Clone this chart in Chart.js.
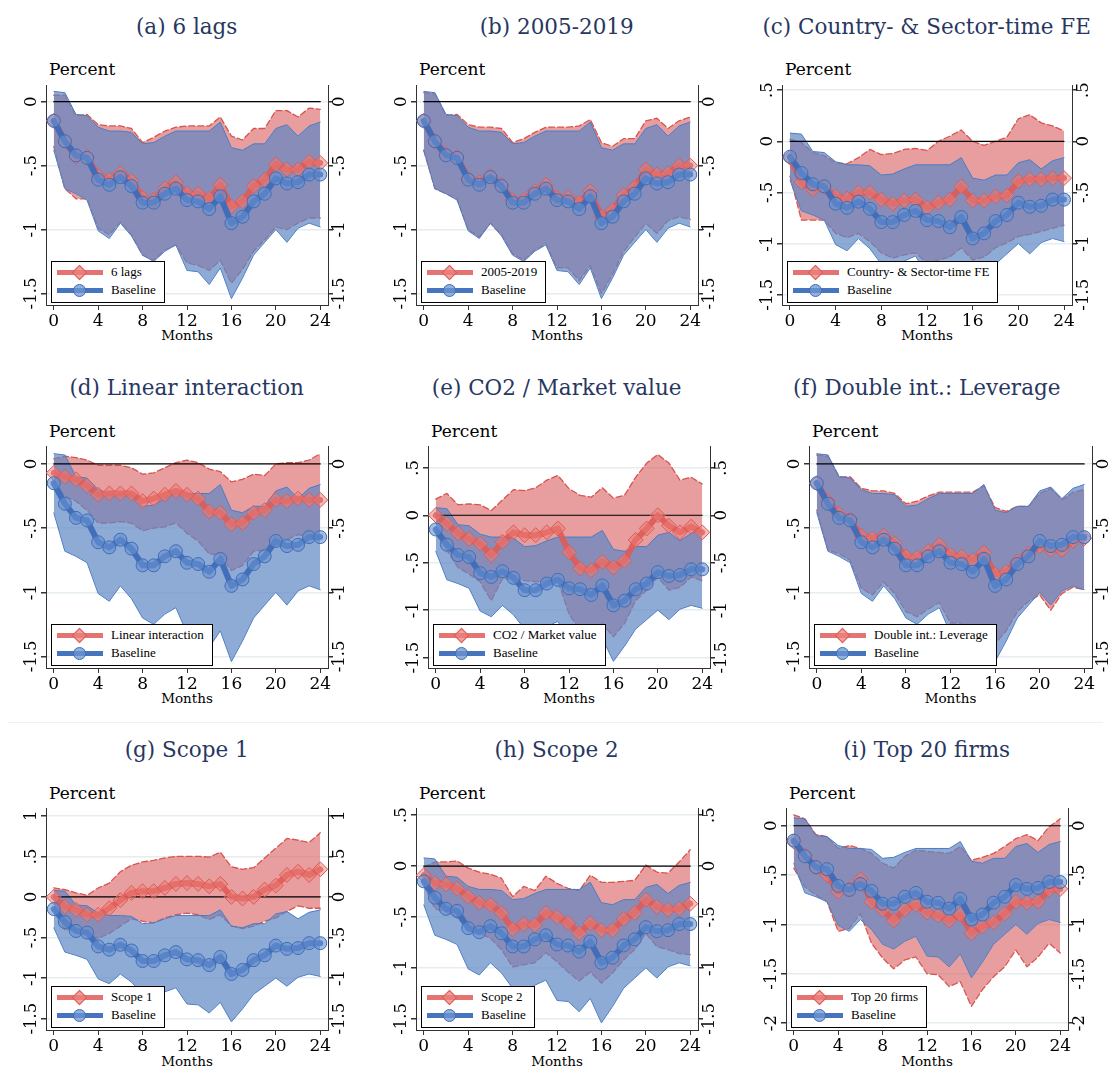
<!DOCTYPE html>
<html>
<head>
<meta charset="utf-8">
<script src="https://cdn.jsdelivr.net/npm/chart.js@4.4.1/dist/chart.umd.min.js"></script>
<style>
  body { margin:0; background:#fff; width:1111px; height:1067px; position:relative; overflow:hidden; font-family:"DejaVu Serif", serif; }
  .ttl { position:absolute; width:370px; text-align:center; font-size:21.5px; line-height:24px; color:#28375f; white-space:nowrap; }
  .pct { position:absolute; font-size:17px; line-height:20px; color:#000; }
  .mon { position:absolute; font-size:13.5px; line-height:16px; color:#000; transform:translateX(-50%); }
  canvas { position:absolute; }
  .leg { position:absolute; border:1px solid #000; background:#fff; font-family:"Liberation Serif", serif; font-size:13px; color:#000; height:39px; padding:1px 8px 0 0; box-sizing:content-box; white-space:nowrap; }
  .row { position:relative; height:18px; line-height:18px; padding-left:59px; }
  .smp { position:absolute; left:5px; top:7px; width:46px; height:5px; }
  .smp.red { background:rgba(222,92,88,0.85); }
  .smp.blue { background:#4674bd; }
  .dia { position:absolute; left:17px; top:-3px; width:9px; height:9px; transform:rotate(45deg); background:rgba(236,130,125,0.75); border:1px solid #dd5b57; }
  .circ { position:absolute; left:16px; top:-4px; width:11px; height:11px; border-radius:50%; background:rgba(110,150,210,0.75); border:1px solid #3f6db6; }
  .sep { position:absolute; left:8px; width:1095px; top:722px; height:1px; background:#eef1f3; }
</style>
</head>
<body>
<div class="sep"></div>
<script>
// ---- data ----
const months = [0,1,2,3,4,5,6,7,8,9,10,11,12,13,14,15,16,17,18,19,20,21,22,23,24];
const xTicks = [0,4,8,12,16,20,24];

const baseMid = [-0.15,-0.31,-0.42,-0.44,-0.61,-0.65,-0.59,-0.66,-0.79,-0.79,-0.72,-0.68,-0.77,-0.78,-0.84,-0.74,-0.95,-0.90,-0.78,-0.72,-0.60,-0.64,-0.63,-0.57,-0.57];
const baseHi  = [0.08,0.07,-0.10,-0.11,-0.20,-0.23,-0.23,-0.24,-0.33,-0.32,-0.27,-0.23,-0.23,-0.23,-0.23,-0.16,-0.36,-0.38,-0.33,-0.33,-0.21,-0.18,-0.27,-0.19,-0.16];
const baseLo  = [-0.38,-0.68,-0.72,-0.77,-1.01,-1.07,-0.95,-1.05,-1.20,-1.25,-1.17,-1.12,-1.32,-1.33,-1.43,-1.30,-1.54,-1.38,-1.20,-1.10,-1.00,-1.10,-0.99,-0.95,-0.98];

const lagsMid = [-0.15,-0.31,-0.43,-0.43,-0.58,-0.61,-0.56,-0.62,-0.75,-0.77,-0.68,-0.63,-0.72,-0.72,-0.76,-0.65,-0.82,-0.78,-0.66,-0.61,-0.49,-0.53,-0.53,-0.47,-0.48];
const lagsHi  = [0.05,0.05,-0.11,-0.10,-0.18,-0.19,-0.19,-0.21,-0.32,-0.28,-0.23,-0.20,-0.19,-0.19,-0.19,-0.12,-0.27,-0.30,-0.21,-0.21,-0.07,-0.07,-0.12,-0.05,-0.06];
const lagsLo  = [-0.35,-0.68,-0.76,-0.76,-0.99,-1.04,-0.94,-1.04,-1.20,-1.24,-1.16,-1.12,-1.26,-1.28,-1.32,-1.24,-1.42,-1.31,-1.17,-1.08,-0.98,-1.00,-0.95,-0.91,-0.91];

const subMid = [-0.15,-0.31,-0.41,-0.43,-0.60,-0.63,-0.58,-0.65,-0.77,-0.77,-0.70,-0.65,-0.75,-0.75,-0.79,-0.70,-0.90,-0.85,-0.73,-0.67,-0.53,-0.57,-0.56,-0.50,-0.50];
const subHi  = [0.07,0.06,-0.11,-0.10,-0.18,-0.20,-0.20,-0.21,-0.32,-0.29,-0.24,-0.20,-0.20,-0.20,-0.19,-0.14,-0.32,-0.35,-0.29,-0.29,-0.15,-0.13,-0.21,-0.15,-0.12];
const subLo  = [-0.38,-0.68,-0.72,-0.76,-1.00,-1.06,-0.95,-1.04,-1.19,-1.24,-1.16,-1.11,-1.30,-1.30,-1.40,-1.28,-1.50,-1.35,-1.17,-1.06,-0.95,-1.03,-0.93,-0.90,-0.92];

const feMid = [-0.16,-0.40,-0.47,-0.45,-0.54,-0.56,-0.50,-0.50,-0.57,-0.61,-0.58,-0.57,-0.65,-0.60,-0.57,-0.44,-0.58,-0.58,-0.54,-0.53,-0.39,-0.37,-0.37,-0.36,-0.36];
const feHi  = [0.02,-0.01,-0.11,-0.14,-0.21,-0.22,-0.16,-0.08,-0.13,-0.12,-0.08,-0.07,-0.09,0.00,0.05,0.11,0.00,-0.04,0.00,0.04,0.22,0.26,0.18,0.15,0.10];
const feLo  = [-0.34,-0.77,-0.77,-0.77,-0.90,-0.94,-0.90,-0.98,-1.09,-1.14,-1.11,-1.09,-1.19,-1.16,-1.13,-1.04,-1.16,-1.13,-1.04,-0.99,-0.93,-0.91,-0.88,-0.85,-0.82];

const linMid = [-0.07,-0.10,-0.12,-0.17,-0.24,-0.23,-0.23,-0.23,-0.29,-0.27,-0.24,-0.21,-0.24,-0.27,-0.37,-0.38,-0.47,-0.46,-0.38,-0.36,-0.28,-0.29,-0.27,-0.28,-0.28];
const linHi  = [0.04,0.06,0.05,0.03,-0.01,-0.01,-0.01,-0.03,-0.08,-0.07,-0.03,0.01,0.03,0.01,-0.04,-0.06,-0.14,-0.12,-0.08,-0.09,0.00,0.01,0.01,0.03,0.08];
const linLo  = [-0.15,-0.25,-0.29,-0.36,-0.46,-0.46,-0.45,-0.46,-0.52,-0.50,-0.49,-0.46,-0.54,-0.60,-0.70,-0.71,-0.83,-0.79,-0.68,-0.67,-0.57,-0.59,-0.55,-0.57,-0.60];

const co2Mid = [0.00,-0.09,-0.19,-0.25,-0.30,-0.42,-0.28,-0.18,-0.21,-0.21,-0.18,-0.14,-0.39,-0.56,-0.58,-0.49,-0.55,-0.48,-0.26,-0.14,0.00,-0.11,-0.18,-0.12,-0.18];
const co2Hi  = [0.17,0.23,0.11,0.12,0.11,0.05,0.16,0.27,0.26,0.29,0.37,0.42,0.28,0.21,0.19,0.29,0.18,0.21,0.40,0.55,0.64,0.55,0.37,0.40,0.33];
const co2Lo  = [-0.19,-0.37,-0.55,-0.62,-0.70,-0.90,-0.67,-0.67,-0.69,-0.70,-0.70,-0.69,-1.04,-1.21,-1.28,-1.14,-1.28,-1.14,-0.90,-0.79,-0.65,-0.79,-0.76,-0.65,-0.69];

const levMid = [-0.15,-0.29,-0.39,-0.43,-0.56,-0.58,-0.56,-0.62,-0.72,-0.73,-0.68,-0.63,-0.71,-0.72,-0.75,-0.69,-0.86,-0.84,-0.76,-0.70,-0.64,-0.67,-0.67,-0.60,-0.58];
const levHi  = [0.07,0.06,-0.10,-0.10,-0.19,-0.21,-0.21,-0.23,-0.31,-0.29,-0.25,-0.22,-0.22,-0.22,-0.22,-0.17,-0.34,-0.37,-0.33,-0.33,-0.23,-0.19,-0.28,-0.22,-0.20];
const levLo  = [-0.36,-0.67,-0.70,-0.75,-0.97,-1.02,-0.92,-1.01,-1.15,-1.19,-1.13,-1.08,-1.24,-1.24,-1.33,-1.24,-1.40,-1.30,-1.15,-1.07,-1.02,-1.14,-1.01,-0.96,-0.98];

const s1Mid = [0.00,-0.12,-0.16,-0.22,-0.22,-0.14,-0.04,0.05,0.07,0.07,0.11,0.16,0.17,0.16,0.13,0.16,0.00,-0.02,0.00,0.09,0.14,0.27,0.31,0.27,0.34];
const s1Hi  = [0.11,0.09,0.05,0.02,0.11,0.17,0.31,0.39,0.43,0.45,0.48,0.50,0.50,0.50,0.49,0.55,0.37,0.34,0.36,0.48,0.60,0.72,0.70,0.67,0.79];
const s1Lo  = [-0.14,-0.41,-0.39,-0.47,-0.51,-0.45,-0.36,-0.27,-0.30,-0.32,-0.26,-0.22,-0.20,-0.22,-0.28,-0.22,-0.36,-0.39,-0.36,-0.30,-0.26,-0.18,-0.11,-0.14,-0.14];

const s2Mid = [-0.09,-0.17,-0.18,-0.22,-0.30,-0.36,-0.38,-0.46,-0.62,-0.57,-0.58,-0.46,-0.50,-0.56,-0.66,-0.56,-0.63,-0.63,-0.52,-0.46,-0.33,-0.40,-0.43,-0.42,-0.37];
const s2Hi  = [-0.01,0.04,0.04,0.05,-0.02,-0.06,-0.08,-0.12,-0.30,-0.20,-0.24,-0.10,-0.17,-0.22,-0.24,-0.09,-0.16,-0.16,-0.15,-0.14,0.01,-0.06,-0.07,0.04,0.16];
const s2Lo  = [-0.19,-0.42,-0.45,-0.51,-0.61,-0.66,-0.71,-0.82,-0.99,-0.97,-0.95,-0.85,-0.94,-1.04,-1.13,-1.04,-1.15,-1.05,-0.92,-0.82,-0.66,-0.79,-0.82,-0.86,-0.87];

const topMid = [-0.16,-0.30,-0.42,-0.50,-0.67,-0.64,-0.54,-0.77,-0.85,-0.96,-0.85,-0.80,-0.88,-0.91,-0.96,-0.90,-1.09,-1.02,-0.98,-0.89,-0.77,-0.78,-0.77,-0.65,-0.64];
const topHi  = [0.11,0.07,-0.09,-0.11,-0.23,-0.20,-0.23,-0.28,-0.38,-0.43,-0.31,-0.25,-0.26,-0.27,-0.28,-0.21,-0.35,-0.32,-0.28,-0.21,-0.13,-0.09,-0.15,-0.01,0.07];
const topLo  = [-0.43,-0.62,-0.70,-0.77,-1.07,-1.04,-0.89,-1.19,-1.34,-1.45,-1.36,-1.33,-1.50,-1.51,-1.63,-1.58,-1.83,-1.66,-1.53,-1.43,-1.26,-1.43,-1.33,-1.19,-1.29];

// y tick labels
const ticksStd = [0,-0.5,-1,-1.5];
const ticksHalf = [0.5,0,-0.5,-1,-1.5];
const ticksOne = [1,0.5,0,-0.5,-1,-1.5];
const ticksTwo = [0,-0.5,-1,-1.5,-2];

const panels = [
  {title:'(a) 6 lags', label:'6 lags', mid:lagsMid, hi:lagsHi, lo:lagsLo, ticks:ticksStd, ymin:-1.59, ymax:0.13},
  {title:'(b) 2005-2019', label:'2005-2019', mid:subMid, hi:subHi, lo:subLo, ticks:ticksStd, ymin:-1.59, ymax:0.13},
  {title:'(c) Country- & Sector-time FE', label:'Country- & Sector-time FE', mid:feMid, hi:feHi, lo:feLo, ticks:ticksHalf, ymin:-1.60, ymax:0.55},
  {title:'(d) Linear interaction', label:'Linear interaction', mid:linMid, hi:linHi, lo:linLo, ticks:ticksStd, ymin:-1.59, ymax:0.14},
  {title:'(e) CO2 / Market value', label:'CO2 / Market value', mid:co2Mid, hi:co2Hi, lo:co2Lo, ticks:ticksHalf, ymin:-1.61, ymax:0.73},
  {title:'(f) Double int.: Leverage', label:'Double int.: Leverage', mid:levMid, hi:levHi, lo:levLo, ticks:ticksStd, ymin:-1.59, ymax:0.14},
  {title:'(g) Scope 1', label:'Scope 1', mid:s1Mid, hi:s1Hi, lo:s1Lo, ticks:ticksOne, ymin:-1.64, ymax:1.095},
  {title:'(h) Scope 2', label:'Scope 2', mid:s2Mid, hi:s2Hi, lo:s2Lo, ticks:ticksHalf, ymin:-1.61, ymax:0.57},
  {title:'(i) Top 20 firms', label:'Top 20 firms', mid:topMid, hi:topHi, lo:topLo, ticks:ticksTwo, ymin:-2.07, ymax:0.18}
];

// ---- layout (plot frame of each panel) ----
const frames = [
  {L:46, R:328, T:85, B:305}, {L:416, R:698, T:85, B:305}, {L:782, R:1072, T:85, B:305},
  {L:46, R:328, T:446, B:668}, {L:428, R:710, T:446, B:668}, {L:809, R:1092, T:446, B:668},
  {L:46, R:328, T:808, B:1030}, {L:416, R:698, T:808, B:1030}, {L:786, R:1068, T:808, B:1030}
];
const titleY = [27, 388, 750];
const pctY = [69, 431, 793];
const monY = [335, 698, 1061];

const RED_BAND = 'rgba(217,93,93,0.6)';
const BLUE_BAND = 'rgba(94,136,196,0.7)';

const fmt = v => v === 0 ? '0' : (v < 0 ? '-' : '') + String(Math.abs(v)).replace(/^0\./, '.');

// rotated y labels on both sides, placed with the scales
const rotatedY = {
  id: 'rotatedY',
  afterDraw(chart) {
    const ctx = chart.ctx;
    ctx.save();
    ctx.font = '16.5px "DejaVu Serif"';
    ctx.fillStyle = '#000';
    ctx.textAlign = 'center';
    ctx.textBaseline = 'middle';
    ['y', 'y2'].forEach(id => {
      const s = chart.scales[id];
      const x = id === 'y' ? s.right - 14 : s.left + 12;
      s.ticks.forEach(t => {
        const y = s.getPixelForValue(t.value);
        ctx.save();
        ctx.translate(x, y);
        ctx.rotate(-Math.PI / 2);
        ctx.fillText(fmt(t.value), 0, 0);
        ctx.restore();
      });
    });
    ctx.restore();
  }
};

const pts = arr => months.map((m, i) => ({x: m, y: arr[i]}));

function addText(cls, text, style) {
  const d = document.createElement('div');
  d.className = cls;
  d.textContent = text;
  Object.assign(d.style, style);
  document.body.appendChild(d);
  return d;
}

panels.forEach((p, k) => {
  const f = frames[k];
  const row = Math.floor(k / 3), col = k % 3;

  addText('ttl', p.title, {left: (370 * col + 1.7) + 'px', top: (titleY[row] - 12) + 'px'});
  addText('pct', 'Percent', {left: (f.L + 3) + 'px', top: (pctY[row] - 10) + 'px'});
  addText('mon', 'Months', {left: ((f.L + f.R) / 2) + 'px', top: (monY[row] - 8) + 'px'});

  const cv = document.createElement('canvas');
  const W = f.R - f.L + 80, H = f.B - f.T + 12 + 30;
  cv.width = W; cv.height = H;
  cv.style.left = (f.L - 40) + 'px';
  cv.style.top = (f.T - 12) + 'px';
  document.body.appendChild(cv);

  const yt = p.ticks;
  const yAxis = (pos, grid) => ({
    type: 'linear', position: pos, min: p.ymin, max: p.ymax,
    afterBuildTicks: s => { s.ticks = yt.map(v => ({value: v})); },
    afterFit: s => { s.width = 40; },
    ticks: {display: false},
    grid: {drawOnChartArea: grid, color: '#e6edf1', lineWidth: 1.5, tickLength: 5, tickColor: '#333'},
    border: {display: true, color: '#333', width: 1}
  });

  new Chart(cv, {
    type: 'line',
    data: {
      datasets: [
        {data: pts(baseMid), borderColor: 'rgba(62,108,185,0.95)', borderWidth: 6, tension: 0,
         pointStyle: 'circle', pointRadius: 6.5, pointBorderWidth: 1,
         pointBackgroundColor: 'rgba(105,145,208,0.6)', pointBorderColor: '#3f6db6', order: 1},
        {data: pts(p.mid), borderColor: 'rgba(224,90,86,0.9)', borderWidth: 6, tension: 0,
         pointStyle: 'rectRot', pointRadius: 7.5, pointBorderWidth: 1,
         pointBackgroundColor: 'rgba(236,125,120,0.5)', pointBorderColor: '#dd5b57', order: 2},
        {data: [{x: months[0], y: 0}, {x: months[months.length - 1], y: 0}], borderColor: '#000',
         borderWidth: 1.2, pointRadius: 0, order: 3},
        {data: pts(baseHi), borderColor: '#4a7cc4', borderWidth: 1, pointRadius: 0, tension: 0,
         fill: {target: 4}, backgroundColor: BLUE_BAND, order: 5},
        {data: pts(baseLo), borderColor: '#4a7cc4', borderWidth: 1, pointRadius: 0, tension: 0, order: 5},
        {data: pts(p.hi), borderColor: '#d9534f', borderWidth: 1.3, borderDash: [6, 3], pointRadius: 0, tension: 0,
         fill: {target: 6}, backgroundColor: RED_BAND, order: 6},
        {data: pts(p.lo), borderColor: '#d9534f', borderWidth: 1.3, borderDash: [6, 3], pointRadius: 0, tension: 0, order: 6}
      ]
    },
    options: {
      responsive: false, animation: false, devicePixelRatio: 1,
      layout: {padding: {top: 12, left: 0, right: 0, bottom: 0}},
      plugins: {legend: {display: false}, tooltip: {enabled: false}},
      elements: {line: {borderJoinStyle: 'round', borderCapStyle: 'round'}},
      scales: {
        x: {
          type: 'linear', min: -0.7, max: 24.7,
          afterBuildTicks: s => { s.ticks = xTicks.map(v => ({value: v})); },
          afterFit: s => { s.height = 30; },
          ticks: {font: {family: 'DejaVu Serif', size: 17}, color: '#000', padding: 1, maxRotation: 0},
          grid: {drawOnChartArea: false, tickLength: 5, tickColor: '#333'},
          border: {display: true, color: '#333', width: 1}
        },
        y: yAxis('left', true),
        y2: yAxis('right', false)
      }
    },
    plugins: [rotatedY]
  });

  // legend box, bottom-left inside the plot
  const leg = document.createElement('div');
  leg.className = 'leg';
  leg.style.left = (f.L + 5) + 'px';
  leg.style.top = (f.B - 3 - 41) + 'px';
  leg.innerHTML =
    '<div class="row"><span class="smp red"><i class="dia"></i></span></div>' +
    '<div class="row"><span class="smp blue"><i class="circ"></i></span></div>';
  leg.children[0].appendChild(document.createTextNode(p.label));
  leg.children[1].appendChild(document.createTextNode('Baseline'));
  document.body.appendChild(leg);
});
</script>
</body>
</html>
